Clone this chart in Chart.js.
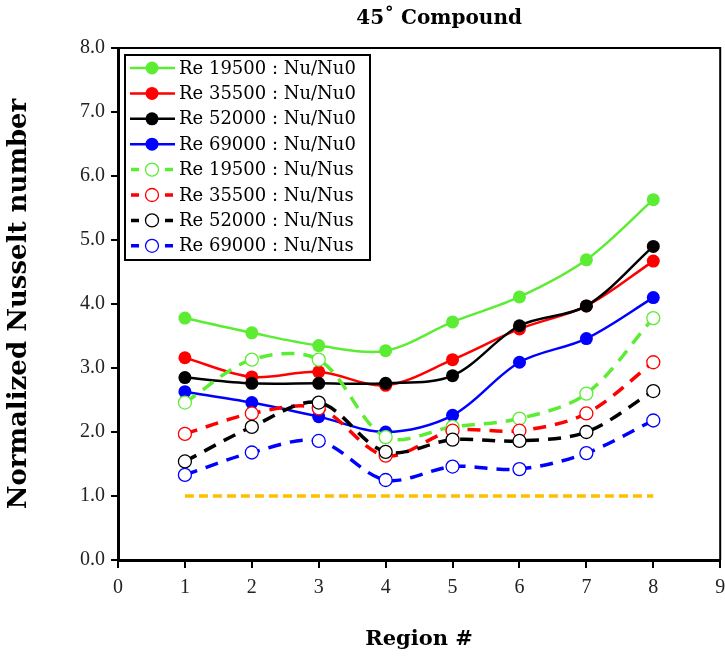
<!DOCTYPE html>
<html>
<head>
<meta charset="utf-8">
<script src="https://cdn.jsdelivr.net/npm/chart.js@4.4.1/dist/chart.umd.min.js"></script>
<style>
  html, body { margin: 0; padding: 0; background: #fff; overflow: hidden; }
  #wrap { width: 725px; height: 656px; overflow: hidden; }
</style>
</head>
<body>
<div id="wrap"><canvas id="chart" width="728" height="656"></canvas></div>
<script>
const regions = [1, 2, 3, 4, 5, 6, 7, 8];
const xTicks = [0, 1, 2, 3, 4, 5, 6, 7, 8, 9];
const yTicks = [0, 1, 2, 3, 4, 5, 6, 7, 8];

const nuNu0_19500 = [3.78, 3.55, 3.35, 3.27, 3.72, 4.11, 4.69, 5.63];
const nuNu0_35500 = [3.16, 2.86, 2.94, 2.73, 3.13, 3.61, 3.97, 4.67];
const nuNu0_52000 = [2.85, 2.76, 2.76, 2.76, 2.88, 3.66, 3.97, 4.90];
const nuNu0_69000 = [2.63, 2.46, 2.24, 2.00, 2.26, 3.09, 3.46, 4.10];
const nuNus_19500 = [2.46, 3.13, 3.13, 1.92, 2.08, 2.21, 2.60, 3.78];
const nuNus_35500 = [1.97, 2.29, 2.37, 1.63, 2.02, 2.02, 2.29, 3.09];
const nuNus_52000 = [1.54, 2.08, 2.46, 1.69, 1.88, 1.86, 2.00, 2.64];
const nuNus_69000 = [1.33, 1.68, 1.86, 1.25, 1.46, 1.42, 1.67, 2.18];
const baseline = [1, 1, 1, 1, 1, 1, 1, 1];

const GREEN = '#5cec34', RED = '#ff0000', BLACK = '#000000', BLUE = '#0000ff';
const serif = '"DejaVu Serif", serif';
const tickFont = '"Liberation Serif", serif';

function pts(vals) {
    return vals.map((v, i) => ({ x: regions[i], y: v }));
}

function solid(label, vals, color) {
    return {
        label: label, data: pts(vals),
        borderColor: color, backgroundColor: color,
        borderWidth: 2.5, tension: 0.33,
        pointRadius: 6.5, pointBorderWidth: 0, pointBackgroundColor: color
    };
}

function dashed(label, vals, color) {
    return {
        label: label, data: pts(vals),
        borderColor: color, backgroundColor: '#fff',
        borderWidth: 3.5, borderDash: [13, 9], tension: 0.33,
        pointRadius: 6.5, pointBorderWidth: 1.3,
        pointBorderColor: color, pointBackgroundColor: '#fff'
    };
}

const datasets = [
    {
        label: 'ref', data: pts(baseline), borderColor: '#ffbf00',
        borderWidth: 3.5, borderDash: [9, 5], pointRadius: 0, hideLegend: true
    },
    dashed('Re 69000 : Nu/Nus', nuNus_69000, BLUE),
    dashed('Re 52000 : Nu/Nus', nuNus_52000, BLACK),
    dashed('Re 35500 : Nu/Nus', nuNus_35500, RED),
    dashed('Re 19500 : Nu/Nus', nuNus_19500, GREEN),
    solid('Re 69000 : Nu/Nu0', nuNu0_69000, BLUE),
    solid('Re 52000 : Nu/Nu0', nuNu0_52000, BLACK),
    solid('Re 35500 : Nu/Nu0', nuNu0_35500, RED),
    solid('Re 19500 : Nu/Nu0', nuNu0_19500, GREEN)
];

// title, legend inside the plot, and top/right frame
const framePlugin = {
    id: 'frame',
    afterDraw(chart) {
        const ctx = chart.ctx;
        const a = chart.chartArea;
        ctx.save();
        ctx.strokeStyle = '#000';
        ctx.lineWidth = 2;
        ctx.beginPath();
        ctx.moveTo(a.left, a.top);
        ctx.lineTo(a.right, a.top);
        ctx.lineTo(a.right, a.bottom);
        ctx.stroke();

        ctx.fillStyle = '#000';
        ctx.font = 'bold 20px ' + serif;
        ctx.textAlign = 'center';
        ctx.textBaseline = 'middle';
        ctx.fillText('45\u02da Compound', (a.left + a.right) / 2 + 20, 19);
        ctx.textAlign = 'left';

        const items = chart.data.datasets.filter(d => !d.hideLegend).slice().reverse();
        const order = items.filter(d => !d.borderDash).concat(items.filter(d => d.borderDash));
        const bx = a.left + 7, by = a.top + 7, bw = 245, bh = 205;
        ctx.fillStyle = '#fff';
        ctx.fillRect(bx, by, bw, bh);
        ctx.lineWidth = 2;
        ctx.strokeRect(bx, by, bw, bh);
        ctx.font = '18px ' + serif;
        order.forEach((d, i) => {
            const y = by + 13 + i * 25.4;
            ctx.strokeStyle = d.borderColor;
            ctx.lineWidth = d.borderDash ? 3.5 : 2.5;
            ctx.beginPath();
            if (d.borderDash) {
                ctx.moveTo(bx + 6, y); ctx.lineTo(bx + 14, y);
                ctx.moveTo(bx + 40, y); ctx.lineTo(bx + 48, y);
            } else {
                ctx.moveTo(bx + 5, y); ctx.lineTo(bx + 50, y);
            }
            ctx.stroke();
            ctx.beginPath();
            ctx.arc(bx + 27, y, 6.5, 0, Math.PI * 2);
            ctx.fillStyle = d.pointBackgroundColor;
            ctx.fill();
            if (d.borderDash) {
                ctx.lineWidth = 1.3;
                ctx.strokeStyle = d.borderColor;
                ctx.stroke();
            }
            ctx.fillStyle = '#000';
            ctx.fillText(d.label, bx + 54, y + 1);
        });
        ctx.restore();
    }
};

new Chart(document.getElementById('chart'), {
    type: 'line',
    data: { datasets: datasets },
    plugins: [framePlugin],
    options: {
        responsive: false,
        animation: false,
        layout: { padding: { top: 48, right: 0, left: 0, bottom: 0 } },
        plugins: {
            legend: { display: false },
            tooltip: { enabled: false },
            title: { display: false }
        },
        scales: {
            x: {
                type: 'linear', min: 0, max: 9,
                afterBuildTicks: s => { s.ticks = xTicks.map(v => ({ value: v })); },
                afterFit: s => { s.height = 96; s.paddingRight = 0; s.paddingLeft = 0; },
                border: { color: '#000', width: 3 },
                grid: { drawOnChartArea: false, drawTicks: true, tickLength: 8, color: '#000', lineWidth: 2 },
                ticks: { color: '#222', font: { family: tickFont, size: 20 }, padding: 8 },
                title: {
                    display: true, text: 'Region #', color: '#000',
                    font: { family: serif, size: 21, weight: 'bold' },
                    padding: { top: 12 }
                }
            },
            y: {
                min: 0, max: 8,
                afterBuildTicks: s => { s.ticks = yTicks.map(v => ({ value: v })); },
                afterFit: s => { s.width = 118; s.paddingTop = 0; s.paddingBottom = 0; },
                border: { color: '#000', width: 3 },
                grid: { drawOnChartArea: false, drawTicks: true, tickLength: 7, color: '#000', lineWidth: 2 },
                ticks: {
                    color: '#222', font: { family: tickFont, size: 20 }, padding: 6,
                    callback: v => v.toFixed(1)
                },
                title: {
                    display: true, text: 'Normalized Nusselt number', color: '#000',
                    font: { family: serif, size: 26, weight: 'bold' },
                    padding: { bottom: 6 }
                }
            }
        }
    }
});
</script>
</body>
</html>
